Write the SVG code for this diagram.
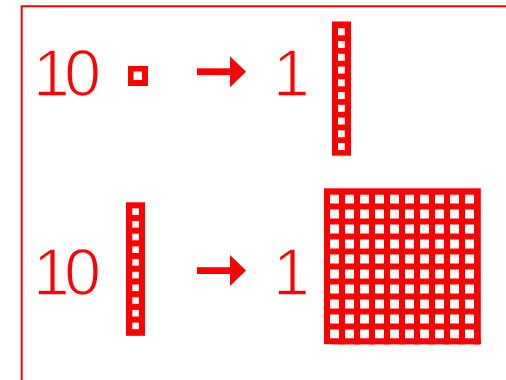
<svg xmlns="http://www.w3.org/2000/svg" width="506" height="380" viewBox="0 0 506 380">
  <style>
    .t { font-family: "Liberation Sans", Arial, sans-serif; font-size: 66px; fill: #ff0000; stroke: #ffffff; stroke-width: 1.6px; paint-order: fill; }
    .r { fill: #ff0000; }
    .w { fill: #ffffff; }
    .frame { fill: none; stroke: #ff0000; stroke-width: 2; }
  </style>
  <defs>
    <pattern id="grid" x="330" y="194.5" width="15" height="15" patternUnits="userSpaceOnUse">
      <rect x="0" y="0" width="15" height="15" fill="#ff0000"/>
      <rect x="0" y="0" width="9" height="9" fill="#ffffff"/>
    </pattern>
    <g id="arrow">
      <rect x="197" y="-3.4" width="34" height="6.8" fill="#ff0000"/>
      <polygon points="230,-15.5 246,0 230,15.5" fill="#ff0000"/>
    </g>
  </defs>

  <path class="frame" d="M21.7,380 V6.3 H506"/>

  <g id="row1-left">
    <text class="t" x="33" y="95.5" letter-spacing="-5.5">10</text>
    <rect class="r" x="128" y="66" width="20" height="20"/>
    <rect class="w" x="133.5" y="71.5" width="8.5" height="8.5"/>
  </g>

  <g id="connectors">
    <use href="#arrow" y="71.7"/>
    <use href="#arrow" y="270.6"/>
  </g>

  <g id="row1-right">
    <text class="t" x="273" y="95.5">1</text>
    <rect class="r" x="332" y="21.5" width="19" height="134.2"/>
    <rect class="w" x="338" y="28.3" width="6.8" height="7"/>
    <rect class="w" x="338" y="41.05" width="6.8" height="7"/>
    <rect class="w" x="338" y="53.8" width="6.8" height="7"/>
    <rect class="w" x="338" y="66.55" width="6.8" height="7"/>
    <rect class="w" x="338" y="79.3" width="6.8" height="7"/>
    <rect class="w" x="338" y="92.05" width="6.8" height="7"/>
    <rect class="w" x="338" y="104.8" width="6.8" height="7"/>
    <rect class="w" x="338" y="117.55" width="6.8" height="7"/>
    <rect class="w" x="338" y="130.3" width="6.8" height="7"/>
    <rect class="w" x="338" y="143.05" width="6.8" height="7"/>
  </g>

  <g id="row2-left">
    <text class="t" x="33" y="295" letter-spacing="-5.5">10</text>
    <rect class="r" x="126" y="202.3" width="19" height="133.5"/>
    <rect class="w" x="132.3" y="208.3" width="6.6" height="6.6"/>
    <rect class="w" x="132.3" y="221" width="6.6" height="6.6"/>
    <rect class="w" x="132.3" y="233.7" width="6.6" height="6.6"/>
    <rect class="w" x="132.3" y="246.4" width="6.6" height="6.6"/>
    <rect class="w" x="132.3" y="259.1" width="6.6" height="6.6"/>
    <rect class="w" x="132.3" y="271.8" width="6.6" height="6.6"/>
    <rect class="w" x="132.3" y="284.5" width="6.6" height="6.6"/>
    <rect class="w" x="132.3" y="297.2" width="6.6" height="6.6"/>
    <rect class="w" x="132.3" y="309.9" width="6.6" height="6.6"/>
    <rect class="w" x="132.3" y="322.6" width="6.6" height="6.6"/>
  </g>

  <g id="row2-right">
    <text class="t" x="273" y="295">1</text>
    <rect class="r" x="324" y="188.3" width="156.8" height="155.8"/>
    <rect x="330" y="194.5" width="150" height="150" fill="url(#grid)"/>
    <rect class="r" x="324" y="338.5" width="156.8" height="5.6"/>
  </g>
</svg>
